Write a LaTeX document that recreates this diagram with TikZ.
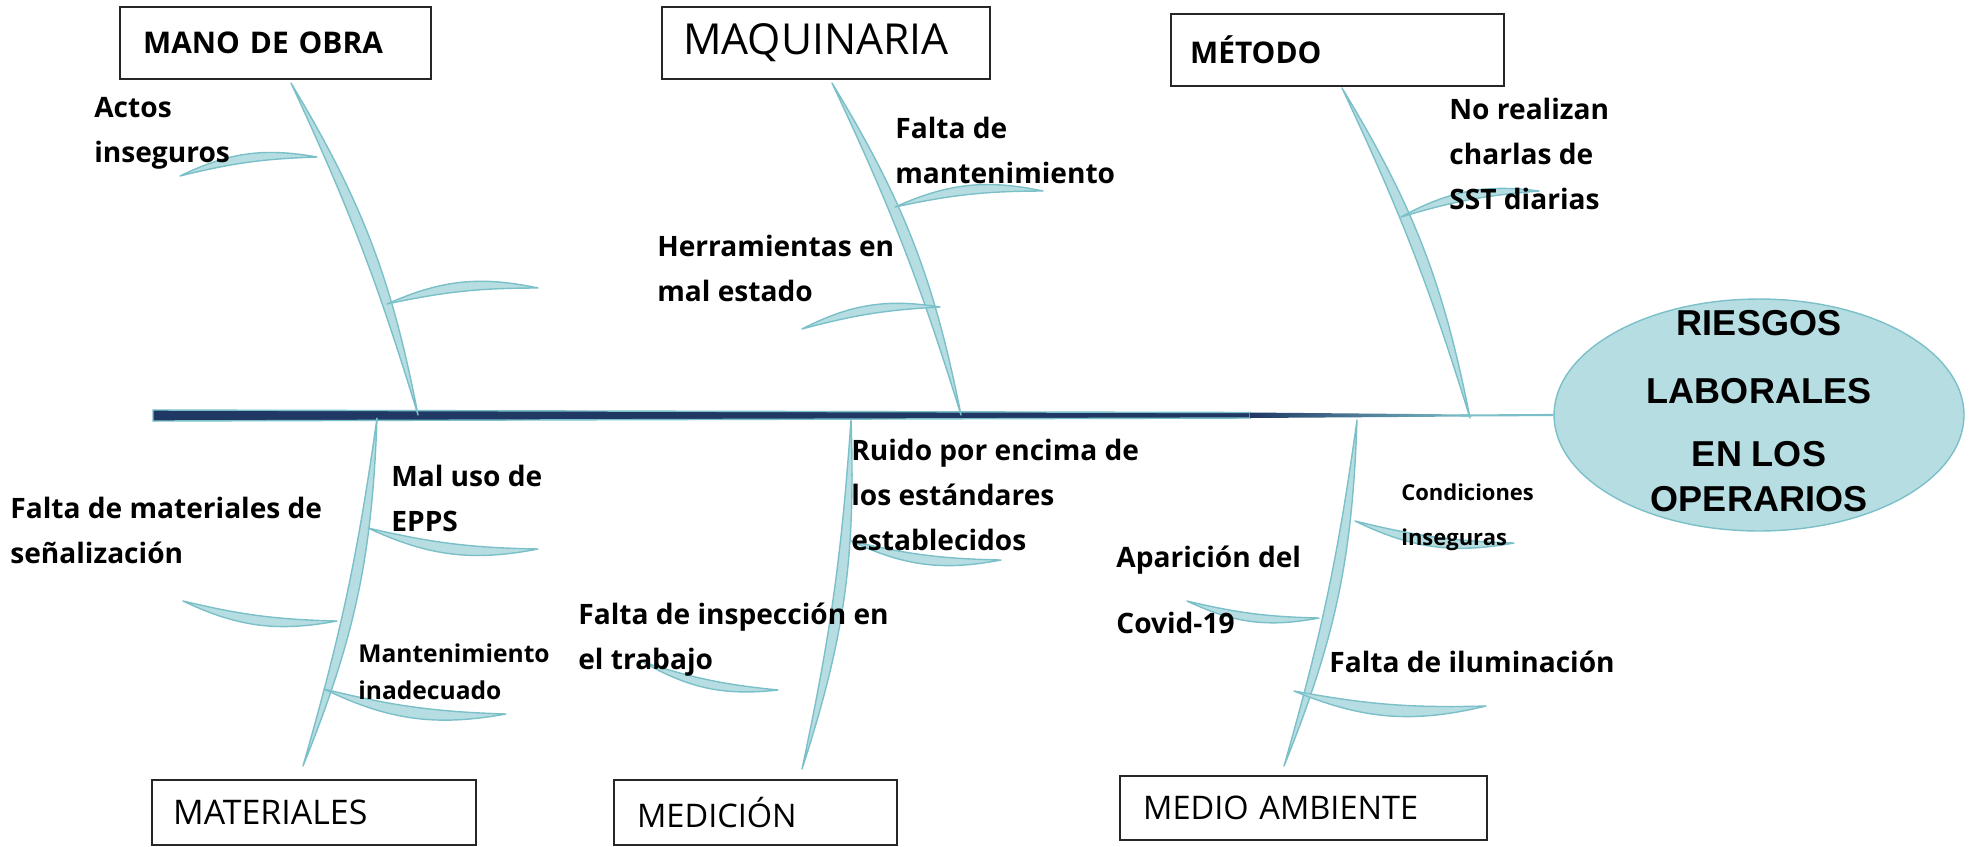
\documentclass[tikz,border=0pt]{standalone}
\usepackage{fontspec}
\setmainfont{Open Sans}
\newfontfamily\headfont{Liberation Sans}
\usetikzlibrary{shapes.geometric}
\definecolor{bonefill}{HTML}{B6DEE2}
\definecolor{boneline}{HTML}{7BC0C8}
\definecolor{spinenavy}{HTML}{203864}
\tikzset{
  bone/.style={fill=bonefill, draw=boneline, line width=0.8pt, line join=round},
  catbox/.style={draw=black!85, line width=1.3pt, anchor=north west, align=left, inner ysep=0pt},
  cause/.style={font=\bfseries\fontsize{16}{25.6}\selectfont, align=left, anchor=west, inner sep=0pt},
  smallcause/.style={cause, font=\bfseries\fontsize{14}{21}\selectfont},
  head/.style={ellipse, fill=bonefill, draw=boneline, line width=0.8pt, minimum width=8.2cm, minimum height=4.64cm},
}
% one bone: from, to, outer bend, inner bend
\newcommand{\fishbone}[4]{%
  \draw[bone] (#1) to[bend left=#3] (#2) to[bend right=#4] (#1) -- cycle;%
}

\begin{document}
\begin{tikzpicture}[x=0.02cm, y=0.02cm]
  \useasboundingbox (0,0) rectangle (1970,-846);

  % head
  \node (riesgos) [head] at (1759,-415) {};
  \node (riesgostxt) [font=\headfont\bfseries\fontsize{20.5}{26}\selectfont, align=center] at (1759,-411)
    {RIESGOS\\[12.7pt]LABORALES\\[9.8pt]EN LOS\\OPERARIOS};

  % spine
  \coordinate (tail) at (153,-415);
  \filldraw[fill=spinenavy, draw=boneline, line width=0.8pt] (153,-410) -- (1250,-412.5) -- (1250,-418) -- (153,-421) -- cycle;
  \shade[left color=spinenavy, right color=boneline] (1250,-412.5) -- (1470,-414.5) -- (1470,-416.5) -- (1250,-418) -- cycle;
  \draw[boneline, line width=1.2pt] (1460,-415.5) -- (riesgos.west);

  % categories
  \node (mano) [catbox, text width=5.30cm, inner xsep=0.46cm, minimum height=1.44cm, font=\bfseries\fontsize{17}{20}\selectfont] at (119,-6) {MANO DE OBRA};
  \node (maq) [catbox, text width=5.72cm, inner xsep=0.42cm, minimum height=1.44cm, font=\fontsize{24.3}{28}\selectfont] at (661,-6) {MAQUINARIA};
  \node (met) [catbox, text width=5.90cm, inner xsep=0.38cm, minimum height=1.44cm, font=\bfseries\fontsize{17}{20}\selectfont] at (1170,-13) {MÉTODO};
  \node (mat) [catbox, text width=5.64cm, inner xsep=0.42cm, minimum height=1.30cm, font=\fontsize{19.3}{22}\selectfont] at (151,-779) {MATERIALES};
  \node (med) [catbox, text width=4.74cm, inner xsep=0.46cm, minimum height=1.30cm, font=\fontsize{18.5}{22}\selectfont] at (613,-779) {MEDICIÓN};
  \node (amb) [catbox, text width=6.42cm, inner xsep=0.46cm, minimum height=1.28cm, font=\fontsize{18.5}{22}\selectfont] at (1119,-775) {MEDIO AMBIENTE};

  % main bones
  \coordinate (manotop) at (291,-83);   \coordinate (manofoot) at (418,-415);
  \coordinate (maqtop) at (832,-83);    \coordinate (maqfoot) at (961,-415);
  \coordinate (mettop) at (1342,-88);   \coordinate (metfoot) at (1470,-418);
  \coordinate (matfoot) at (377,-418);  \coordinate (matend) at (303,-766);
  \coordinate (medfoot) at (851,-420);  \coordinate (medend) at (802,-769);
  \coordinate (ambfoot) at (1357,-420); \coordinate (ambend) at (1284,-766);
  \fishbone{manotop}{manofoot}{10}{4}
  \fishbone{maqtop}{maqfoot}{10}{4}
  \fishbone{mettop}{metfoot}{10}{4}
  \fishbone{matfoot}{matend}{10}{4}
  \fishbone{medfoot}{medend}{10}{4}
  \fishbone{ambfoot}{ambend}{10}{4}

  % sub bones
  \coordinate (actosA) at (180,-176);  \coordinate (actosB) at (317,-157);
  \coordinate (manoA) at (387,-304);   \coordinate (manoB) at (538,-288);
  \coordinate (mantA) at (895,-207);   \coordinate (mantB) at (1043,-191);
  \coordinate (herrA) at (802,-329);   \coordinate (herrB) at (940,-307);
  \coordinate (sstA) at (1401,-217);   \coordinate (sstB) at (1539,-191);
  \fishbone{actosA}{actosB}{18}{6}
  \fishbone{manoA}{manoB}{18}{6}
  \fishbone{mantA}{mantB}{18}{6}
  \fishbone{herrA}{herrB}{18}{6}
  \fishbone{sstA}{sstB}{18}{6}
  \coordinate (eppsA) at (368,-528);   \coordinate (eppsB) at (538,-549);
  \coordinate (senA) at (183,-601);    \coordinate (senB) at (337,-621);
  \coordinate (inadA) at (324,-689);   \coordinate (inadB) at (506,-714);
  \coordinate (ruidoA) at (851,-541);  \coordinate (ruidoB) at (1001,-560);
  \coordinate (inspA) at (643,-662);   \coordinate (inspB) at (778,-690);
  \coordinate (condA) at (1355,-521);  \coordinate (condB) at (1514,-543);
  \coordinate (covA) at (1187,-601);   \coordinate (covB) at (1319,-618);
  \coordinate (ilumA) at (1294,-691);  \coordinate (ilumB) at (1486,-706);
  \fishbone{eppsA}{eppsB}{-18}{-6}
  \fishbone{senA}{senB}{-18}{-6}
  \fishbone{inadA}{inadB}{-18}{-6}
  \fishbone{ruidoA}{ruidoB}{-18}{-6}
  \fishbone{inspA}{inspB}{-18}{-6}
  \fishbone{condA}{condB}{-18}{-6}
  \fishbone{covA}{covB}{-18}{-6}
  \fishbone{ilumA}{ilumB}{-18}{-6}

  % causes
  \node (actos) [cause] at (94,-133.5) {Actos\\inseguros};
  \node (faltamant) [cause] at (895,-150) {Falta de\\mantenimiento};
  \node (herram) [cause] at (657,-268) {Herramientas en\\mal estado};
  \node (charlas) [cause] at (1449,-154) {No realizan\\charlas de\\SST diarias};
  \node (senal) [cause] at (10,-530.5) {Falta de materiales de\\señalización};
  \node (epps) [cause] at (391,-498.5) {Mal uso de\\EPPS};
  \node (inadec) [smallcause] at (358,-671.5) {Mantenimiento\\inadecuado};
  \node (ruido) [cause] at (851,-495) {Ruido por encima de\\los estándares\\establecidos};
  \node (insp) [cause] at (578,-639.5) {Falta de inspección en\\el trabajo};
  \node (covid) [cause, font=\bfseries\fontsize{16}{37.6}\selectfont] at (1116,-590) {Aparición del\\Covid-19};
  \node (condic) [smallcause, font=\bfseries\fontsize{12.5}{25.6}\selectfont] at (1401,-517.5) {Condiciones\\inseguras};
  \node (ilum) [cause] at (1329,-662) {Falta de iluminación};
\end{tikzpicture}
\end{document}
